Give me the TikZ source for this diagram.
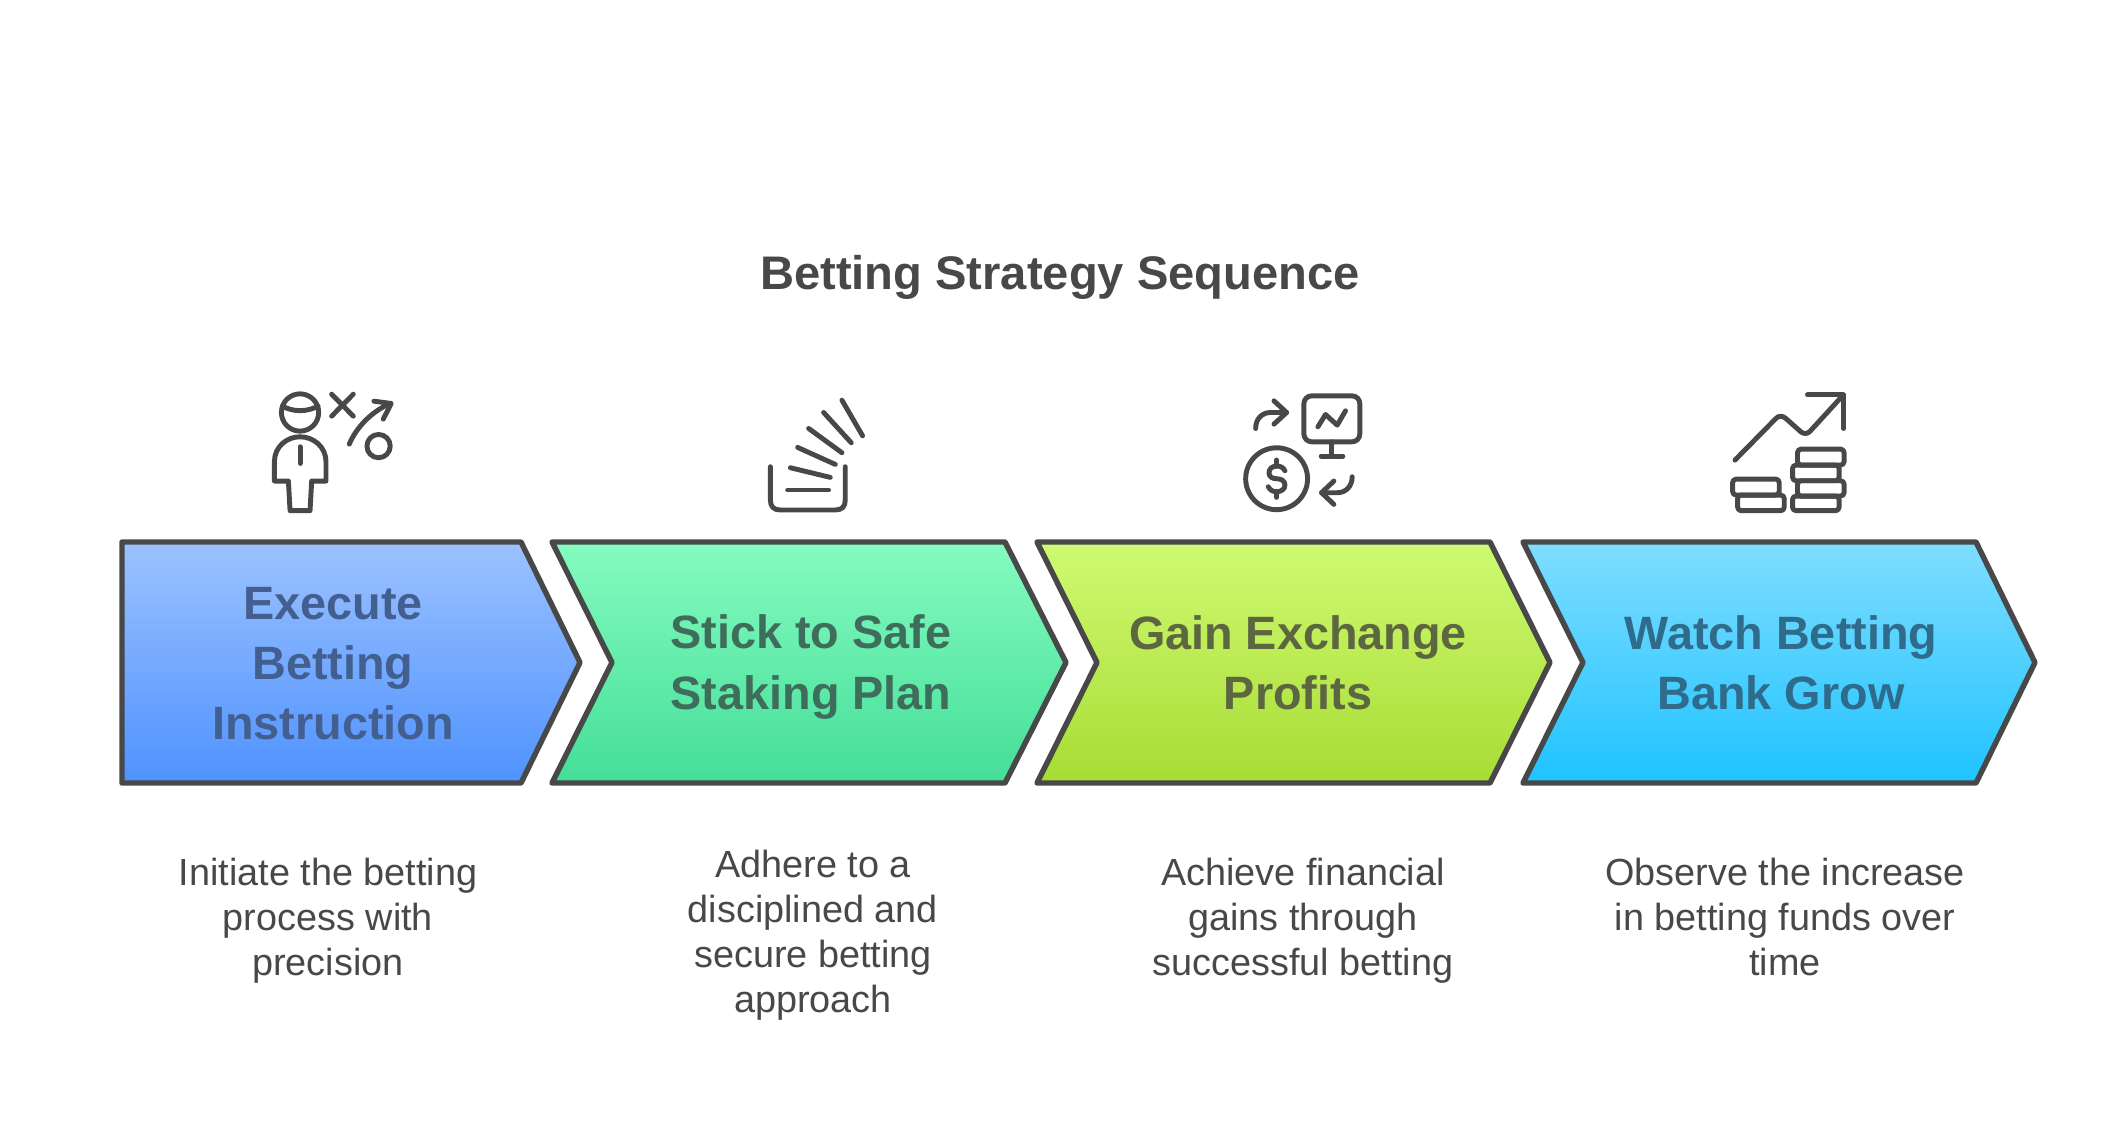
\documentclass[tikz,border=0pt]{standalone}
\usepackage{fontspec}
\setmainfont{Liberation Sans}
\usetikzlibrary{positioning}
\definecolor{strokegray}{RGB}{72,72,72}
\definecolor{bluetop}{RGB}{155,194,255}
\definecolor{bluebot}{RGB}{79,146,255}
\definecolor{greentop}{RGB}{133,251,192}
\definecolor{greenbot}{RGB}{68,222,152}
\definecolor{limetop}{RGB}{207,250,114}
\definecolor{limebot}{RGB}{168,220,52}
\definecolor{skytop}{RGB}{127,221,255}
\definecolor{skybot}{RGB}{31,195,255}
\definecolor{bluetext}{RGB}{67,95,143}
\definecolor{greentext}{RGB}{62,110,91}
\definecolor{limetext}{RGB}{92,102,64}
\definecolor{skytext}{RGB}{47,107,138}
\tikzset{
  iconpen/.style={draw=strokegray, line width=1.4pt, line cap=round, line join=round},
  headtext/.style={font=\bfseries\fontsize{13.3}{17.07}\selectfont, align=center, inner sep=0pt},
  desctext/.style={font=\fontsize{10.75}{12.8}\selectfont, text=strokegray, align=center, inner sep=0pt},
  icon/.style={x=0.003333cm, y=-0.003333cm}
}
\begin{document}
\begin{tikzpicture}[x=0.01cm, y=-0.01cm]
\useasboundingbox (0,0) rectangle (2120,1145);

% Title
\node[font=\bfseries\fontsize{13.4}{17}\selectfont, text=strokegray, inner sep=0pt] (title) at (1060,277) {Betting Strategy Sequence};

% Chevrons
\foreach \lft/\notch/\rgt/\tip/\colr in {122/122/521/580/blue, 552/612/1005/1066/green, 1037/1097/1490/1550/lime, 1523/1583/1976/2035/sky}
    \draw[draw=strokegray, line width=1.55pt, line join=round, top color=\colr top, bottom color=\colr bot]
        (\lft,542) -- (\rgt,542) -- (\tip,662.5) -- (\rgt,783) -- (\lft,783) -- (\notch,662.5) -- cycle;

% Chevron labels
\node[headtext, text=bluetext] (headone) at (333,664) {Execute\\Betting\\Instruction};
\node[headtext, text=greentext] (headtwo) at (811,667) {Stick to Safe\\Staking Plan};
\node[headtext, text=limetext] (headthree) at (1298,663) {Gain Exchange\\Profits};
\node[headtext, text=skytext] (headfour) at (1781,663) {Watch Betting\\Bank Grow};

% Descriptions
\node[desctext] (descone) at (328,921) {Initiate the betting\\process with\\precision};
\node[desctext] (desctwo) at (813,935) {Adhere to a\\disciplined and\\secure betting\\approach};
\node[desctext] (descthree) at (1303,921) {Achieve financial\\gains through\\successful betting};
\node[desctext] (descfour) at (1785,917) {Observe the increase\\in betting funds over\\time};

% Icon 1: person with play
\begin{scope}[xshift=2.4cm, yshift=-3.7cm, icon]
\draw[iconpen] (180,127) circle (56);
\draw[iconpen] (127,108) .. controls (160,126) and (200,126) .. (234,108);
\draw[iconpen] (103,333) -- (103,275) .. controls (103,230) and (140,200) .. (180,200) .. controls (220,200) and (258,230) .. (258,275) -- (258,333) -- (215,333) -- (210,422) -- (150,422) -- (145,333) -- cycle;
\draw[iconpen] (180,230) -- (180,280);
\draw[iconpen] (275,72) -- (340,138);
\draw[iconpen] (340,72) -- (275,138);
\draw[iconpen] (328,222) .. controls (350,170) and (395,125) .. (450,100);
\draw[iconpen] (402,93) -- (454,100) -- (430,147);
\draw[iconpen] (416,228) circle (35);
\end{scope}

% Icon 2: stack in tray
\begin{scope}[xshift=7.4cm, yshift=-3.7cm, icon]
\draw[iconpen] (90,290) -- (90,390) .. controls (90,410) and (100,420) .. (120,420) -- (285,420) .. controls (305,420) and (315,410) .. (315,390) -- (315,290);
\foreach \xa/\ya/\xb/\yb in {142/360/265/360, 150/293/270/322, 172/232/285/283, 205/175/305/248, 250/127/333/218, 305/90/367/197}
    \draw[iconpen] (\xa,\ya) -- (\xb,\yb);
\end{scope}

% Icon 3: monitor and dollar
\begin{scope}[xshift=12.2cm, yshift=-3.8cm, icon]
\draw[iconpen, rounded corners=2.2pt] (250,47) rectangle (418,185);
\draw[iconpen] (334,185) -- (334,228);
\draw[iconpen] (302,228) -- (367,228);
\draw[iconpen] (292,140) -- (315,103) -- (350,135) -- (375,92);
\draw[iconpen] (105,145) .. controls (105,115) and (125,97) .. (150,97) -- (198,97);
\draw[iconpen] (160,62) -- (198,97) -- (160,132);
\draw[iconpen] (168,296) circle (93);
\draw[iconpen] (193,272) .. controls (188,262) and (180,258) .. (168,258) .. controls (155,258) and (145,266) .. (145,278) .. controls (145,290) and (155,296) .. (168,296) .. controls (183,296) and (193,303) .. (193,315) .. controls (193,327) and (183,335) .. (168,335) .. controls (156,335) and (148,330) .. (143,320);
\draw[iconpen] (168,240) -- (168,258);
\draw[iconpen] (168,335) -- (168,352);
\draw[iconpen] (395,290) .. controls (395,320) and (375,338) .. (350,338) -- (303,338);
\draw[iconpen] (340,303) -- (303,338) -- (340,373);
\end{scope}

% Icon 4: coins and rising line
\begin{scope}[xshift=17.1cm, yshift=-3.8cm, icon]
\draw[iconpen] (72,240) -- (195,115) .. controls (203,106) and (215,106) .. (225,115) -- (270,155) .. controls (278,162) and (290,162) .. (298,153) -- (395,47);
\draw[iconpen] (290,44) -- (398,44) -- (398,145);
\foreach \xa/\ya/\xb/\yb in {65/297/205/345, 80/345/220/392, 260/207/400/255, 245/255/385/302, 260/302/400/348, 245/348/385/392}
    \draw[iconpen, rounded corners=1pt] (\xa,\ya) rectangle (\xb,\yb);
\end{scope}
\end{tikzpicture}
\end{document}
